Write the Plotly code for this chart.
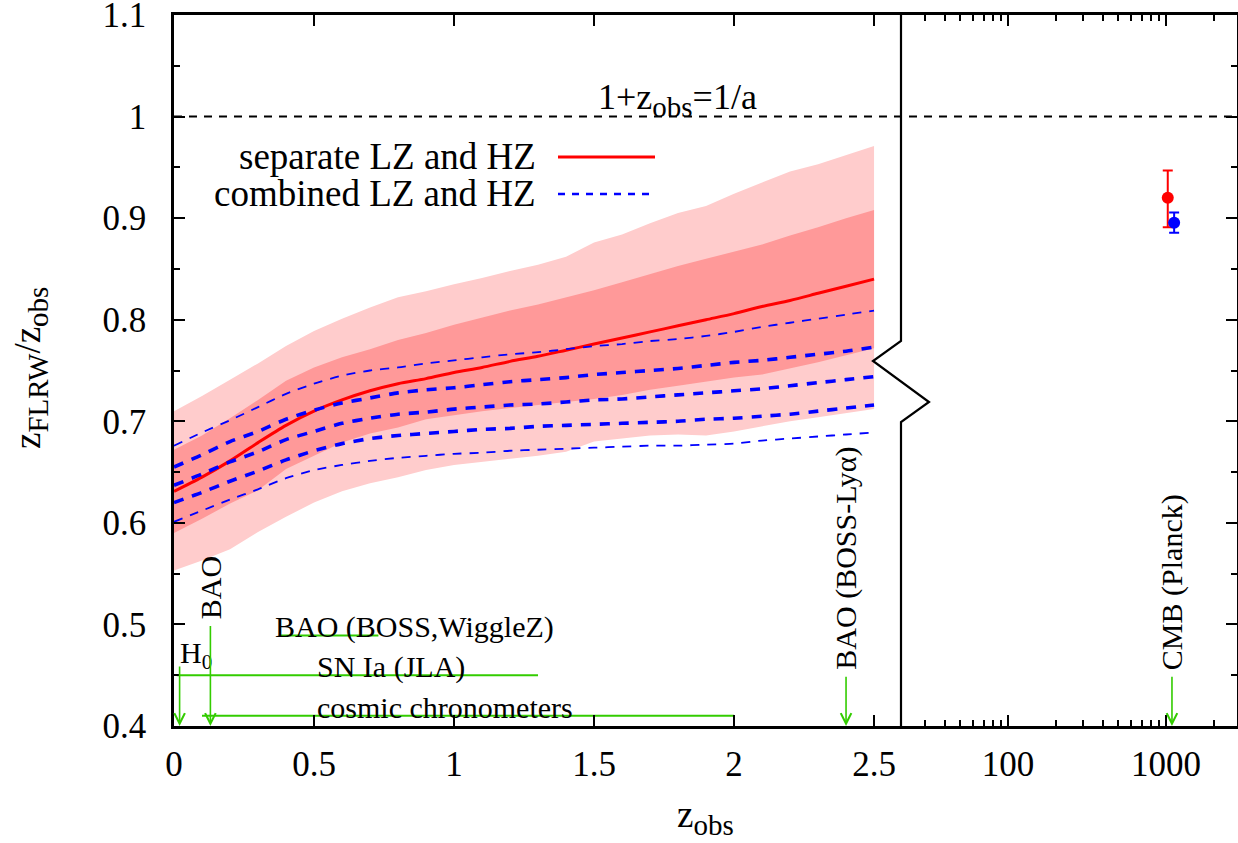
import math
import plotly.graph_objects as go

# ---------------- data ----------------
z_grid = [0.0, 0.1, 0.2, 0.3, 0.4, 0.5, 0.6, 0.7, 0.8, 0.9, 1.0, 1.1, 1.2, 1.3,
          1.4, 1.5, 1.6, 1.7, 1.8, 1.9, 2.0, 2.1, 2.2, 2.3, 2.4, 2.5]

# separate LZ and HZ : 2-sigma band, 1-sigma band, mean
sep_2hi = [0.710, 0.725, 0.741, 0.757, 0.774, 0.789, 0.801, 0.812, 0.822, 0.828, 0.835, 0.841, 0.848,
           0.854, 0.862, 0.876, 0.884, 0.895, 0.905, 0.912, 0.924, 0.935, 0.946, 0.953, 0.962, 0.971]
sep_2lo = [0.553, 0.563, 0.574, 0.591, 0.606, 0.620, 0.631, 0.639, 0.645, 0.652, 0.657, 0.660, 0.663,
           0.666, 0.670, 0.680, 0.683, 0.686, 0.687, 0.686, 0.690, 0.695, 0.700, 0.704, 0.708, 0.712]
sep_1hi = [0.672, 0.686, 0.703, 0.721, 0.740, 0.753, 0.763, 0.771, 0.780, 0.787, 0.795, 0.802, 0.809,
           0.815, 0.822, 0.829, 0.837, 0.845, 0.853, 0.860, 0.867, 0.874, 0.883, 0.891, 0.900, 0.908]
sep_1lo = [0.590, 0.604, 0.619, 0.632, 0.653, 0.666, 0.679, 0.688, 0.694, 0.702, 0.706, 0.710, 0.713,
           0.716, 0.719, 0.722, 0.726, 0.731, 0.735, 0.739, 0.743, 0.746, 0.752, 0.758, 0.765, 0.772]
sep_mean = [0.631, 0.645, 0.661, 0.679, 0.696, 0.710, 0.721, 0.730, 0.737, 0.742, 0.748, 0.753, 0.759,
            0.764, 0.770, 0.776, 0.782, 0.788, 0.794, 0.800, 0.806, 0.813, 0.819, 0.826, 0.833, 0.840]

# combined LZ and HZ : 2-sigma, 1-sigma, mean
comb_2hi = [0.676, 0.689, 0.701, 0.714, 0.727, 0.737, 0.745, 0.750, 0.753, 0.757, 0.760, 0.763, 0.766,
            0.768, 0.771, 0.774, 0.776, 0.779, 0.781, 0.784, 0.788, 0.793, 0.797, 0.801, 0.805, 0.809]
comb_1hi = [0.655, 0.667, 0.680, 0.690, 0.702, 0.711, 0.718, 0.723, 0.728, 0.731, 0.733, 0.736, 0.739,
            0.741, 0.743, 0.746, 0.748, 0.750, 0.752, 0.755, 0.758, 0.760, 0.763, 0.766, 0.769, 0.773]
comb_mean = [0.637, 0.648, 0.660, 0.670, 0.682, 0.690, 0.698, 0.703, 0.707, 0.709, 0.712, 0.714, 0.716,
             0.717, 0.719, 0.721, 0.722, 0.724, 0.726, 0.728, 0.730, 0.732, 0.735, 0.738, 0.741, 0.744]
comb_1lo = [0.620, 0.630, 0.641, 0.651, 0.662, 0.671, 0.678, 0.683, 0.686, 0.688, 0.690, 0.692, 0.693,
            0.695, 0.696, 0.697, 0.698, 0.699, 0.700, 0.702, 0.703, 0.705, 0.707, 0.710, 0.713, 0.716]
comb_2lo = [0.601, 0.612, 0.623, 0.633, 0.644, 0.652, 0.657, 0.661, 0.664, 0.666, 0.668, 0.669, 0.671,
            0.672, 0.673, 0.674, 0.675, 0.676, 0.676, 0.677, 0.678, 0.681, 0.683, 0.685, 0.687, 0.689]

# CMB points
cmb_z = [1025, 1125]
cmb_val = [0.920, 0.8955]
cmb_err_up = [0.027, 0.010]
cmb_err_dn = [0.029, 0.010]
cmb_colors = ["#ff0000", "#0000ff"]

# probe arrows
arrow_labels = ["H<sub>0</sub>", "BAO", "BAO (BOSS-Lyα)", "CMB (Planck)"]
arrow_z = [0.02, 0.13, 2.4, 1090]
arrow_top = [0.46, 0.50, 0.45, 0.45]

# probe ranges
range_labels = ["BAO (BOSS,WiggleZ)", "SN Ia (JLA)", "cosmic chronometers"]
range_zlo = [0.38, 0.01, 0.10]
range_zhi = [0.73, 1.30, 2.00]
range_y = [0.489, 0.45, 0.41]
range_label_z = [0.354, 0.504, 0.504]
range_label_y = [0.497, 0.4576, 0.4185]

y_ticks = [0.4, 0.5, 0.6, 0.7, 0.8, 0.9, 1.0, 1.1]
y_ticktext = ["0.4", "0.5", "0.6", "0.7", "0.8", "0.9", "1", "1.1"]
y_minor = [0.45, 0.55, 0.65, 0.75, 0.85, 0.95, 1.05]
x_ticks = [0, 0.5, 1, 1.5, 2, 2.5]
x_ticktext = ["0", "0.5", "1", "1.5", "2", "2.5"]
x2_ticks = [100, 1000]
x2_ticktext = ["100", "1000"]
x2_minor = [30, 40, 50, 60, 70, 80, 90, 200, 300, 400, 500, 600, 700, 800, 900, 2000]

# ---------------- styling ----------------
FONT = "Liberation Serif"
LIGHT = "#ffcccc"
DARK = "#ff9999"
GREEN = "#33cc00"
W, H = 1238, 843
ML, MR, MT, MB = 174, 1, 15, 117
PW = W - ML - MR
PH = H - MT - MB
BREAK = 0.6849
BIG = 37
SUB = "<sub><span style='font-size:29px'>{}</span></sub>"


def px2paper(px, py):
    return (px - ML) / PW, (H - MB - py) / PH


fig = go.Figure()

# bands
fig.add_trace(go.Scatter(x=z_grid, y=sep_2lo, mode="lines", line=dict(width=0), showlegend=False,
                         hoverinfo="skip"))
fig.add_trace(go.Scatter(x=z_grid, y=sep_2hi, mode="lines", line=dict(width=0), fill="tonexty",
                         fillcolor=LIGHT, showlegend=False, hoverinfo="skip"))
fig.add_trace(go.Scatter(x=z_grid, y=sep_1lo, mode="lines", line=dict(width=0), showlegend=False,
                         hoverinfo="skip"))
fig.add_trace(go.Scatter(x=z_grid, y=sep_1hi, mode="lines", line=dict(width=0), fill="tonexty",
                         fillcolor=DARK, showlegend=False, hoverinfo="skip"))

# red mean
fig.add_trace(go.Scatter(x=z_grid, y=sep_mean, mode="lines",
                         line=dict(color="#ff0000", width=3, shape="spline", smoothing=0.8),
                         showlegend=False))

# blue combined lines
for arr, wdt, dsh in [(comb_2hi, 1.8, "9px,8px"), (comb_1hi, 3.6, "10px,9px"), (comb_mean, 3.6, "10px,9px"),
                      (comb_1lo, 3.6, "10px,9px"), (comb_2lo, 1.8, "9px,8px")]:
    fig.add_trace(go.Scatter(x=z_grid, y=arr, mode="lines",
                             line=dict(color="#0000ff", width=wdt, dash=dsh, shape="spline", smoothing=0.6),
                             showlegend=False))

# probe ranges
for lo, hi, yy in zip(range_zlo, range_zhi, range_y):
    fig.add_trace(go.Scatter(x=[lo, hi], y=[yy, yy], mode="lines", line=dict(color=GREEN, width=2),
                             showlegend=False))

# CMB points
for zz, vv, up, dn, col in zip(cmb_z, cmb_val, cmb_err_up, cmb_err_dn, cmb_colors):
    fig.add_trace(go.Scatter(x=[zz], y=[vv], mode="markers", xaxis="x2", yaxis="y2",
                             marker=dict(color=col, size=12),
                             error_y=dict(type="data", array=[up], arrayminus=[dn], color=col,
                                          thickness=2, width=5),
                             showlegend=False))

annotations = []
# arrows
for lab, zz, top in zip(arrow_labels, arrow_z, arrow_top):
    if zz > 10:
        xr = "x2"
        xv = math.log10(zz)
    else:
        xr = "x"
        xv = zz
    annotations.append(dict(x=xv, y=0.4, ax=xv, ay=top, xref=xr, yref="y", axref=xr, ayref="y",
                            showarrow=True, arrowhead=5, arrowsize=1.3, arrowwidth=1.6,
                            arrowcolor=GREEN, text=""))
    if lab.startswith("H"):
        annotations.append(dict(x=0.014, y=0.4695, xref="x", yref="y", text=lab, showarrow=False,
                                xanchor="left", yanchor="middle",
                                font=dict(family=FONT, size=30, color="black")))
    else:
        annotations.append(dict(x=xv, y=top + 0.003, xref=xr, yref="y", text=lab, showarrow=False,
                                textangle=-90, xanchor="center", yanchor="bottom",
                                font=dict(family=FONT, size=30, color="black")))

for lab, lz, ly in zip(range_labels, range_label_z, range_label_y):
    annotations.append(dict(x=lz, y=ly, xref="x", yref="y", text=lab, showarrow=False,
                            xanchor="left", yanchor="middle",
                            font=dict(family=FONT, size=30, color="black")))

# legend texts
lx, ly1 = px2paper(538, 157)
_, ly2 = px2paper(538, 194)
annotations.append(dict(x=lx, y=ly1, xref="paper", yref="paper", text="separate LZ and HZ", showarrow=False,
                        xanchor="right", yanchor="middle", font=dict(family=FONT, size=BIG, color="black")))
annotations.append(dict(x=lx, y=ly2, xref="paper", yref="paper", text="combined LZ and HZ", showarrow=False,
                        xanchor="right", yanchor="middle", font=dict(family=FONT, size=BIG, color="black")))

# 1+z label
tx, ty = px2paper(677, 100)
annotations.append(dict(x=tx, y=ty, xref="paper", yref="paper", text="1+z" + SUB.format("obs") + "=1/a",
                        showarrow=False, xanchor="center", yanchor="middle",
                        font=dict(family=FONT, size=36, color="black")))

# axis titles
ax_, ay_ = px2paper(30, 368)
annotations.append(dict(x=ax_, y=ay_, xref="paper", yref="paper",
                        text="z" + SUB.format("FLRW") + "/z" + SUB.format("obs"),
                        showarrow=False, textangle=-90, xanchor="center", yanchor="middle",
                        font=dict(family=FONT, size=BIG, color="black")))
bx_, by_ = px2paper(705, 818)
annotations.append(dict(x=bx_, y=by_, xref="paper", yref="paper", text="z" + SUB.format("obs"),
                        showarrow=False, xanchor="center", yanchor="middle",
                        font=dict(family=FONT, size=BIG, color="black")))

shapes = []
# dashed y=1 line
shapes.append(dict(type="line", xref="paper", yref="y", x0=0, x1=1, y0=1, y1=1,
                   line=dict(color="black", width=2, dash="8px,7px")))
# axis break with zigzag
pts = [(901, 15), (901, 341), (873, 361), (929, 402), (901, 422), (901, 726)]
path = ""
for i, (px, py) in enumerate(pts):
    xx, yy = px2paper(px, py)
    path += ("M" if i == 0 else "L") + f"{xx:.5f},{yy:.5f} "
shapes.append(dict(type="path", xref="paper", yref="paper", path=path.strip(),
                   line=dict(color="black", width=2.2)))
# legend samples
x0, y0 = px2paper(558, 157)
x1, _ = px2paper(655, 157)
shapes.append(dict(type="line", xref="paper", yref="paper", x0=x0, x1=x1, y0=y0, y1=y0,
                   line=dict(color="#ff0000", width=3)))
x0, y0 = px2paper(558, 194)
x1, _ = px2paper(650, 194)
shapes.append(dict(type="line", xref="paper", yref="paper", x0=x0, x1=x1, y0=y0, y1=y0,
                   line=dict(color="#0000ff", width=2.6, dash="7px,7px")))

tickfont = dict(family=FONT, size=35, color="black")
common_axis = dict(showline=True, linecolor="black", linewidth=2.5, ticks="inside", ticklen=11,
                   tickwidth=2, tickcolor="black", showgrid=False, zeroline=False, tickfont=tickfont,
                   ticklabeloverflow="allow", automargin=False)

fig.update_layout(
    width=W, height=H,
    margin=dict(l=ML, r=MR, t=MT, b=MB, autoexpand=False),
    paper_bgcolor="white", plot_bgcolor="white",
    showlegend=False,
    xaxis=dict(domain=[0, BREAK], range=[0, 2.6], tickvals=x_ticks, ticktext=x_ticktext,
               mirror="ticks", anchor="y", ticklabelstandoff=5, **common_axis),
    xaxis2=dict(domain=[BREAK, 1], type="log", range=[1.329, 3.449], tickvals=x2_ticks,
                ticktext=x2_ticktext, mirror="ticks", anchor="y2", ticklabelstandoff=5,
                minor=dict(tickvals=x2_minor, ticks="inside", ticklen=6, tickwidth=1.5, tickcolor="black"),
                **common_axis),
    yaxis=dict(domain=[0, 1], range=[0.4, 1.1], tickvals=y_ticks, ticktext=y_ticktext, anchor="x",
               ticklabelstandoff=18,
               minor=dict(tickvals=y_minor, ticks="inside", ticklen=6, tickwidth=2, tickcolor="black"),
               **common_axis),
    yaxis2=dict(domain=[0, 1], range=[0.4, 1.1], tickvals=y_ticks, anchor="x2", side="right",
                showticklabels=False,
                minor=dict(tickvals=y_minor, ticks="inside", ticklen=6, tickwidth=2, tickcolor="black"),
                **common_axis),
    annotations=annotations,
    shapes=shapes,
)

fig.write_html("out.html")
